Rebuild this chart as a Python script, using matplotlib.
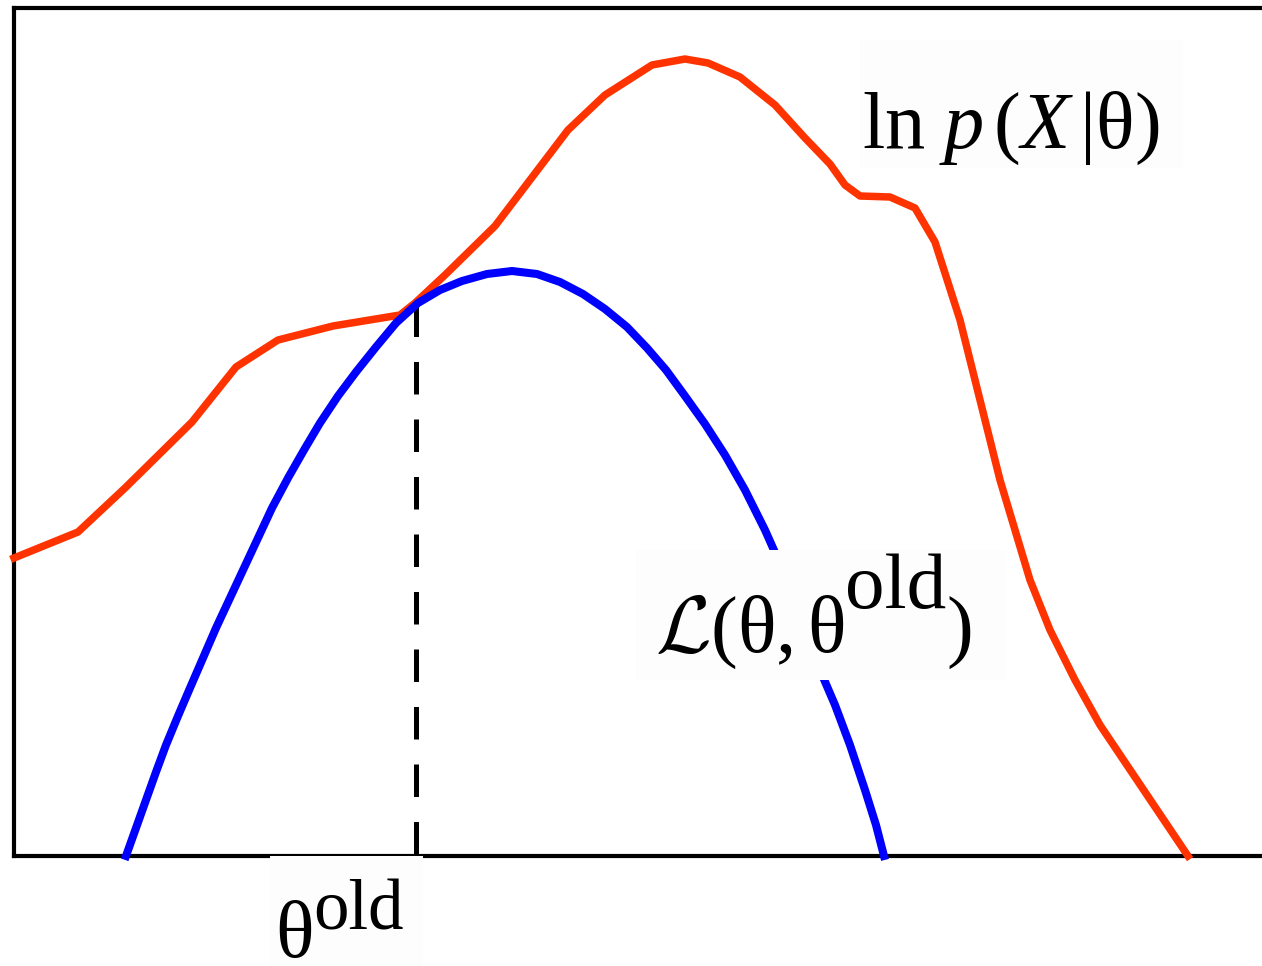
import matplotlib.pyplot as plt
from matplotlib.patches import Rectangle

plt.rcParams['mathtext.fontset'] = 'custom'
plt.rcParams['mathtext.rm'] = 'Liberation Serif'
plt.rcParams['mathtext.it'] = 'Liberation Serif:italic'
plt.rcParams['mathtext.cal'] = 'cmsy10'
plt.rcParams['font.family'] = 'Liberation Serif'

# log likelihood ln p(X|theta)
theta_lik = [0.0, 0.64, 1.11, 1.78, 2.22, 2.64, 3.19, 3.86, 4.01, 4.31, 4.81,
             5.16, 5.54, 5.91, 6.38, 6.71, 6.94, 7.26, 7.61, 7.91, 8.16,
             8.31, 8.46, 8.76, 9.01, 9.21, 9.46, 9.86, 10.16, 10.36, 10.61,
             10.86, 11.74]
lik = [2.98, 3.24, 3.68, 4.34, 4.89, 5.16, 5.30, 5.41, 5.53, 5.81, 6.30,
       6.76, 7.26, 7.61, 7.91, 7.97, 7.93, 7.79, 7.51, 7.18, 6.92,
       6.71, 6.60, 6.59, 6.48, 6.14, 5.36, 3.76, 2.76, 2.26, 1.76,
       1.31, 0.0]

# lower bound L(theta, theta_old)
theta_lb = [1.12, 1.22, 1.32, 1.42, 1.52, 1.64, 1.76, 1.89, 2.02, 2.16,
            2.30, 2.44, 2.58, 2.74, 2.90, 3.06, 3.24, 3.42, 3.62, 3.82,
            4.04, 4.26, 4.48, 4.73, 4.98, 5.23, 5.46, 5.69, 5.91, 6.13,
            6.33, 6.52, 6.71, 6.91, 7.11, 7.31, 7.51, 7.71, 7.91, 8.06,
            8.21, 8.36, 8.51, 8.62, 8.70]
lower_bound = [0.0, 0.28, 0.56, 0.84, 1.11, 1.40, 1.68, 1.98, 2.28, 2.58,
               2.88, 3.18, 3.48, 3.78, 4.06, 4.33, 4.60, 4.84, 5.09, 5.33,
               5.53, 5.66, 5.75, 5.82, 5.85, 5.82, 5.74, 5.62, 5.47, 5.29,
               5.08, 4.86, 4.60, 4.32, 4.01, 3.66, 3.26, 2.81, 2.31, 1.86,
               1.51, 1.11, 0.66, 0.31, 0.0]

theta_old = 4.02
theta_old_top = 5.52

fig = plt.figure(figsize=(12.62, 9.66), dpi=100)
ax = fig.add_axes([14 / 1262, 110 / 966, 1248 / 1262, 848 / 966])
ax.set_xlim(0, 12.48)
ax.set_ylim(0, 8.48)
ax.set_xticks([])
ax.set_yticks([])
for side in ['left', 'top', 'bottom']:
    ax.spines[side].set_linewidth(3)
ax.spines['right'].set_visible(False)

ax.plot(theta_lik, lik, color='#ff3300', lw=5.4, clip_on=False, zorder=3)
ax.plot(theta_lb, lower_bound, color='#0000ff', lw=5.8, clip_on=False,
        zorder=4)
ax.plot([theta_old, theta_old], [theta_old_top, 0], color='black', lw=3.6,
        dashes=(6.5, 5.0), zorder=2)

# white patches behind the labels
bg = '#fdfdfd'
for x0, y0, w, h in [(8.46, 6.88, 3.23, 1.28),
                     (6.22, 1.76, 3.70, 1.30),
                     (2.56, -1.20, 1.53, 1.20)]:
    ax.add_patch(Rectangle((x0, y0), w, h, facecolor=bg, edgecolor='none',
                           zorder=5, clip_on=False))

renderer = fig.canvas.get_renderer()


def label(x, y, parts):
    # lay out text pieces left to right from a baseline point
    dx = 0
    for s, size, rise in parts:
        t = ax.annotate(s, (x, y), xytext=(dx, rise),
                        textcoords='offset pixels', fontsize=size,
                        ha='left', va='baseline', zorder=6,
                        annotation_clip=False)
        dx += t.get_window_extent(renderer).width


label(8.48, 7.08, [(r'$\ln\,p\,(X\,|\mathrm{θ})$', 58, 0)])
label(6.41, 2.04, [(r'$\mathcal{L}(\mathrm{θ},\mathrm{θ}$', 58, 0),
                   ('old', 57, 44),
                   (r'$)$', 58, 0)])
label(2.61, -1.01, [('θ', 58, 0), ('old', 51, 28)])

fig.savefig('out.png', dpi=100)
